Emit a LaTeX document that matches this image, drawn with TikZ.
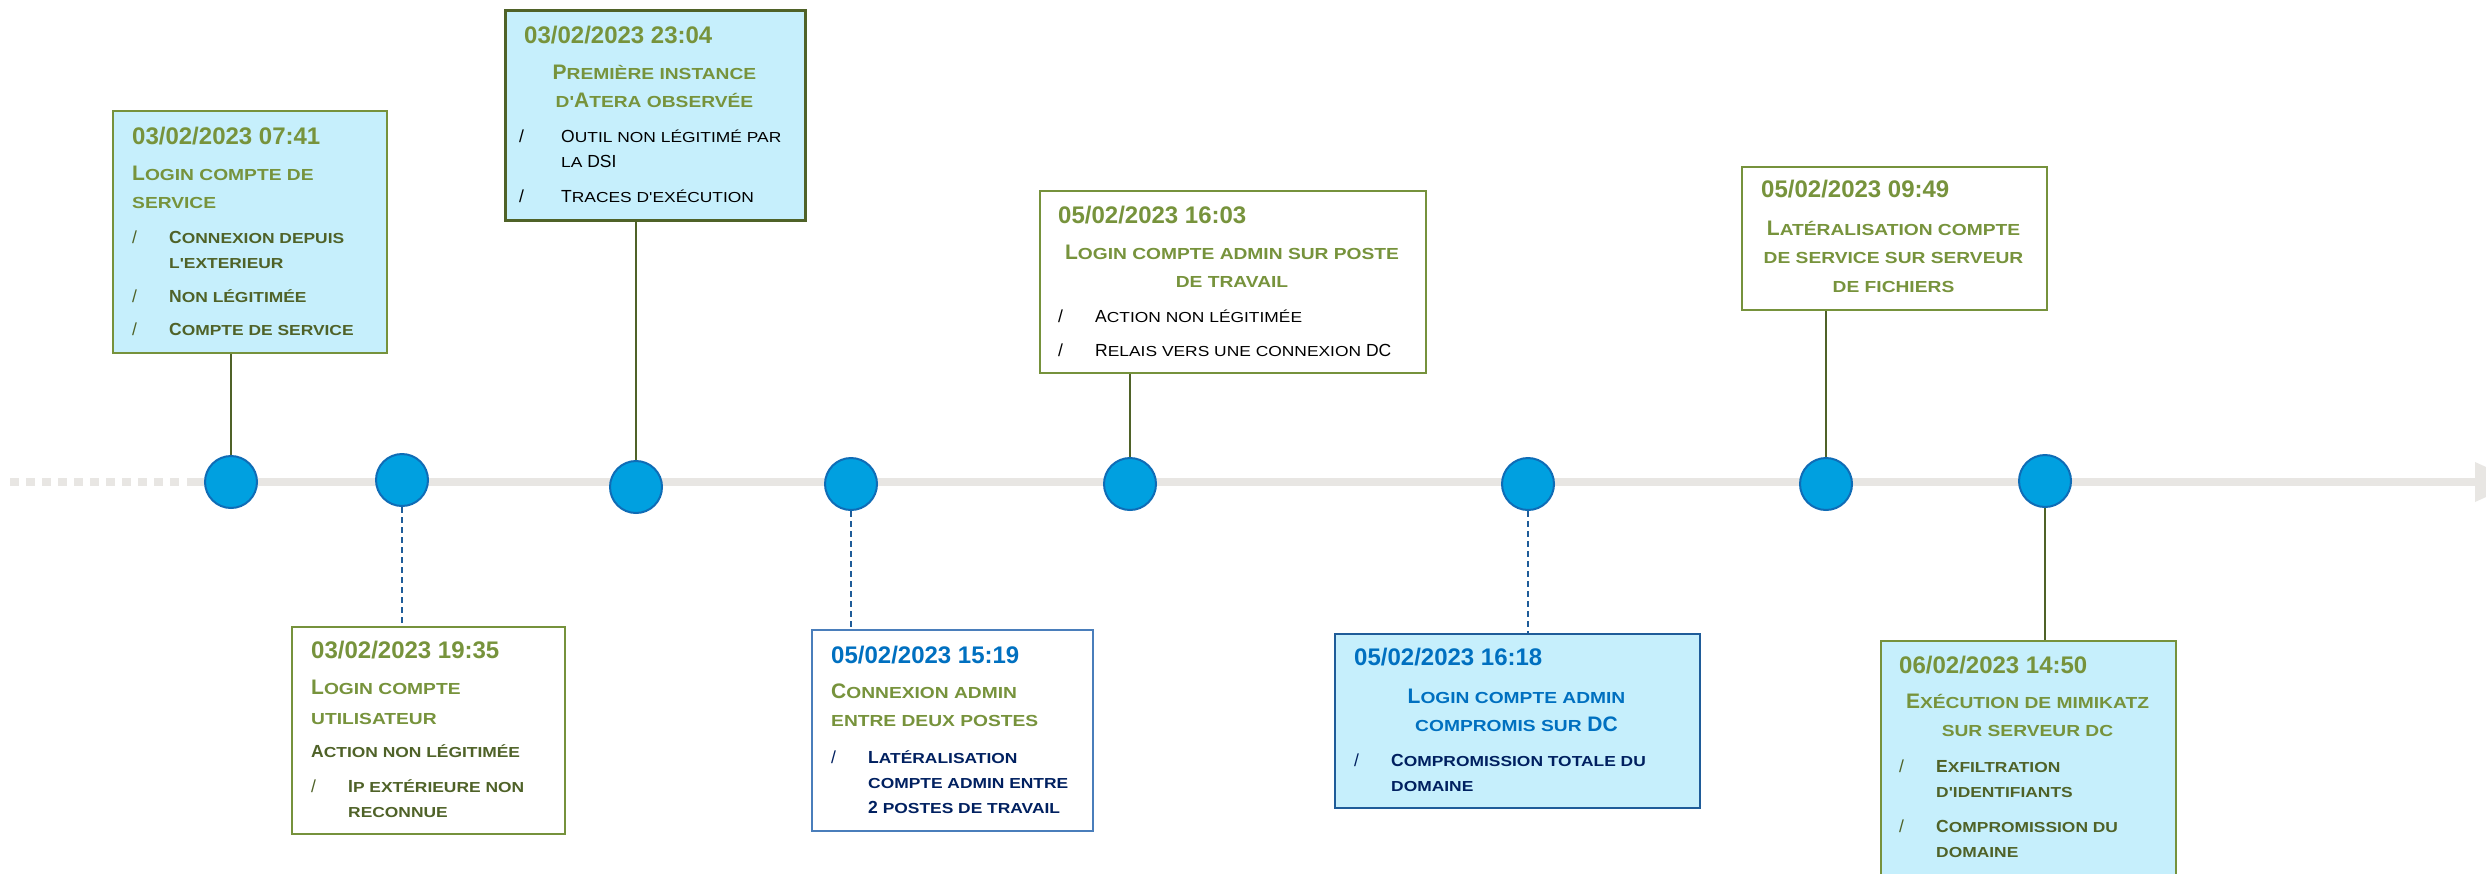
\documentclass[tikz,border=0pt]{standalone}
\usepackage{fontspec}
\usepackage{graphicx}
\setmainfont{Liberation Sans}
\definecolor{cyanfill}{HTML}{C6EFFC}
\definecolor{gborder}{HTML}{76923C}
\definecolor{gtitle}{HTML}{77933C}
\definecolor{gdark}{HTML}{4F6228}
\definecolor{bdate}{HTML}{0070C0}
\definecolor{navy}{HTML}{002060}
\definecolor{bborder}{HTML}{4A7EBB}
\definecolor{bborderd}{HTML}{1F5C99}
\definecolor{dotfill}{HTML}{00A0E0}
\definecolor{dotborder}{HTML}{0F6CB6}
\definecolor{tlgray}{HTML}{E8E6E3}
\definecolor{cblue}{HTML}{1F5C99}
\newcommand\scsz{16pt}
\newcommand\sm[1]{{\fontsize{\scsz}{\scsz}\selectfont\scalebox{1.2}[1]{#1}}}
\newcommand\ttl[2]{\parbox[t]{#1}{\lineskiplimit=-\maxdimen\bfseries\fontsize{21}{28.5}\selectfont\def\scsz{16pt}#2}}
\newcommand\ttlc[2]{\parbox[t]{#1}{\centering\lineskiplimit=-\maxdimen\bfseries\fontsize{21}{28.5}\selectfont\def\scsz{16pt}#2}}
\newcommand\bul[2]{\parbox[t]{#1}{\lineskiplimit=-\maxdimen\fontsize{17.5}{25}\selectfont\def\scsz{14.5pt}#2}}
\newcommand\bi{\makebox[37pt][l]{\mdseries/}}
\newcommand\bc{\hspace*{37pt}}
\newcommand\bx{\makebox[42pt][l]{\mdseries/}}
\newcommand\bcx{\hspace*{42pt}}
\tikzset{
  boxbase/.style={rectangle, inner sep=0, anchor=north west, line width=1.5pt},
  gbox/.style={boxbase, draw=gborder, fill=cyanfill},
  gwbox/.style={boxbase, draw=gborder, fill=white},
  bwbox/.style={boxbase, draw=bborder, fill=white},
  bcbox/.style={boxbase, draw=bborderd, fill=cyanfill},
  dot/.style={circle, minimum size=52pt, inner sep=0, fill=dotfill, draw=dotborder, line width=2pt},
  datetxt/.style={anchor=base west, inner sep=0, text=gtitle, font=\bfseries\fontsize{24}{28}\selectfont},
  bdatetxt/.style={datetxt, text=bdate},
  txt/.style={anchor=base west, inner sep=0},
  ctxt/.style={anchor=base, inner sep=0},
  solidc/.style={draw=gdark, line width=2pt},
  dashc/.style={draw=cblue, line width=2pt, dash pattern=on 6pt off 4pt},
}
\begin{document}
\begin{tikzpicture}[x=1pt, y=-1pt]
\useasboundingbox (0,0) rectangle (2486,873);
\fill[white] (0,0) rectangle (2486,873);
% timeline
\coordinate (d0) at (10,482);
\coordinate (d1) at (183,482);
\coordinate (s0) at (187,482);
\coordinate (s1) at (2477,482);
\draw[tlgray, line width=8pt, dash pattern=on 9pt off 7pt] (d0) -- (d1);
\draw[tlgray, line width=8pt] (s0) -- (s1);
\fill[tlgray] (2475,462) -- (2519,482) -- (2475,502) -- cycle;
% boxes
\node[gbox, minimum width=274pt, minimum height=242pt] (b1) at (112,110) {};
\node[gbox, draw=gdark, line width=3pt, minimum width=300pt, minimum height=210pt] (b2) at (504,9) {};
\node[gwbox, minimum width=386pt, minimum height=182pt] (b3) at (1039,190) {};
\node[gwbox, minimum width=305pt, minimum height=143pt] (b4) at (1741,166) {};
\node[gwbox, minimum width=273pt, minimum height=207pt] (b5) at (291,626) {};
\node[bwbox, minimum width=281pt, minimum height=201pt] (b6) at (811,629) {};
\node[bcbox, minimum width=365pt, minimum height=174pt] (b7) at (1334,633) {};
\node[gbox, minimum width=295pt, minimum height=260pt] (b8) at (1880,640) {};
% circles
\node[dot] (c1) at (231,482) {};
\node[dot] (c2) at (402,480) {};
\node[dot] (c3) at (636,487) {};
\node[dot] (c4) at (851,484) {};
\node[dot] (c5) at (1130,484) {};
\node[dot] (c6) at (1528,484) {};
\node[dot] (c7) at (1826,484) {};
\node[dot] (c8) at (2045,481) {};
% connectors
\draw[solidc] (c1.north) -- (c1.north |- b1.south);
\draw[dashc] (c2.south) -- (c2.south |- b5.north);
\draw[solidc] (c3.north) -- (c3.north |- b2.south);
\draw[dashc] (c4.south) -- (c4.south |- b6.north);
\draw[solidc] (c5.north) -- (c5.north |- b3.south);
\draw[dashc] (c6.south) -- (c6.south |- b7.north);
\draw[solidc] (c7.north) -- (c7.north |- b4.south);
\draw[solidc] (c8.south) -- (c8.south |- b8.north);
% box 1
\node[datetxt] (d1t) at (132,144) {03/02/2023 07:41};
\node[txt, text=gtitle] (t1) at (132,180) {\ttl{250pt}{L\sm{OGIN COMPTE DE}\\\sm{SERVICE}}};
\node[txt, text=gdark] (p1) at (132,243) {\bul{250pt}{\bfseries\bi C\sm{ONNEXION DEPUIS}\\\bc\sm{L\textquotesingle EXTERIEUR}\\[9pt]\bi N\sm{ON LÉGITIMÉE}\\[8pt]\bi C\sm{OMPTE DE SERVICE}}};
% box 2
\node[datetxt] (d2t) at (524,43) {03/02/2023 23:04};
\node[ctxt, text=gtitle] (t2) at (654.5,79) {\ttlc{290pt}{P\sm{REMIÈRE INSTANCE}\\\sm{D\textquotesingle}A\sm{TERA OBSERVÉE}}};
\node[txt, text=black] (p2) at (519,142) {\bul{280pt}{\mdseries\bx O\sm{UTIL NON LÉGITIMÉ PAR}\\\bcx\sm{LA} DSI\\[10pt]\bx T\sm{RACES D\textquotesingle EXÉCUTION}}};
% box 3
\node[datetxt] (d3t) at (1058,223) {05/02/2023 16:03};
\node[ctxt, text=gtitle] (t3) at (1232,259) {\ttlc{380pt}{L\sm{OGIN COMPTE ADMIN SUR POSTE}\\\sm{DE TRAVAIL}}};
\node[txt, text=black] (p3) at (1058,322) {\bul{360pt}{\mdseries\bi A\sm{CTION NON LÉGITIMÉE}\\[9pt]\bi R\sm{ELAIS VERS UNE CONNEXION} DC}};
% box 4
\node[datetxt] (d4t) at (1761,197) {05/02/2023 09:49};
\node[ctxt, text=gtitle] (t4) at (1893.5,235) {\ttlc{300pt}{L\sm{ATÉRALISATION COMPTE}\\\sm{DE SERVICE SUR SERVEUR}\\\sm{DE FICHIERS}}};
% box 5
\node[datetxt] (d5t) at (311,658) {03/02/2023 19:35};
\node[txt, text=gtitle] (t5) at (311,694) {\ttl{250pt}{L\sm{OGIN COMPTE}\\[1.5pt]\sm{UTILISATEUR}}};
\node[txt, text=gdark] (p5) at (311,757) {\bul{250pt}{\bfseries A\sm{CTION NON LÉGITIMÉE}\\[10pt]\bi I\sm{P EXTÉRIEURE NON}\\\bc\sm{RECONNUE}}};
% box 6
\node[bdatetxt] (d6t) at (831,663) {05/02/2023 15:19};
\node[txt, text=gtitle] (t6) at (831,698) {\ttl{260pt}{C\sm{ONNEXION ADMIN}\\\sm{ENTRE DEUX POSTES}}};
\node[txt, text=navy] (p6) at (831,763) {\bul{260pt}{\bfseries\bi L\sm{ATÉRALISATION}\\\bc\sm{COMPTE ADMIN ENTRE}\\\bc 2 \sm{POSTES DE TRAVAIL}}};
% box 7
\node[bdatetxt] (d7t) at (1354,665) {05/02/2023 16:18};
\node[ctxt, text=bdate] (t7) at (1516.5,703) {\ttlc{360pt}{L\sm{OGIN COMPTE ADMIN}\\\sm{COMPROMIS SUR} DC}};
\node[txt, text=navy] (p7) at (1354,766) {\bul{340pt}{\bfseries\bi C\sm{OMPROMISSION TOTALE DU}\\\bc\sm{DOMAINE}}};
% box 8
\node[datetxt] (d8t) at (1899,673) {06/02/2023 14:50};
\node[ctxt, text=gtitle] (t8) at (2027.5,708) {\ttlc{290pt}{E\sm{XÉCUTION DE MIMIKATZ}\\\sm{SUR SERVEUR DC}}};
\node[txt, text=gdark] (p8) at (1899,772) {\bul{270pt}{\bfseries\bi E\sm{XFILTRATION}\\\bc\sm{D\textquotesingle IDENTIFIANTS}\\[10pt]\bi C\sm{OMPROMISSION DU}\\\bc\sm{DOMAINE}}};
\end{tikzpicture}
\end{document}
